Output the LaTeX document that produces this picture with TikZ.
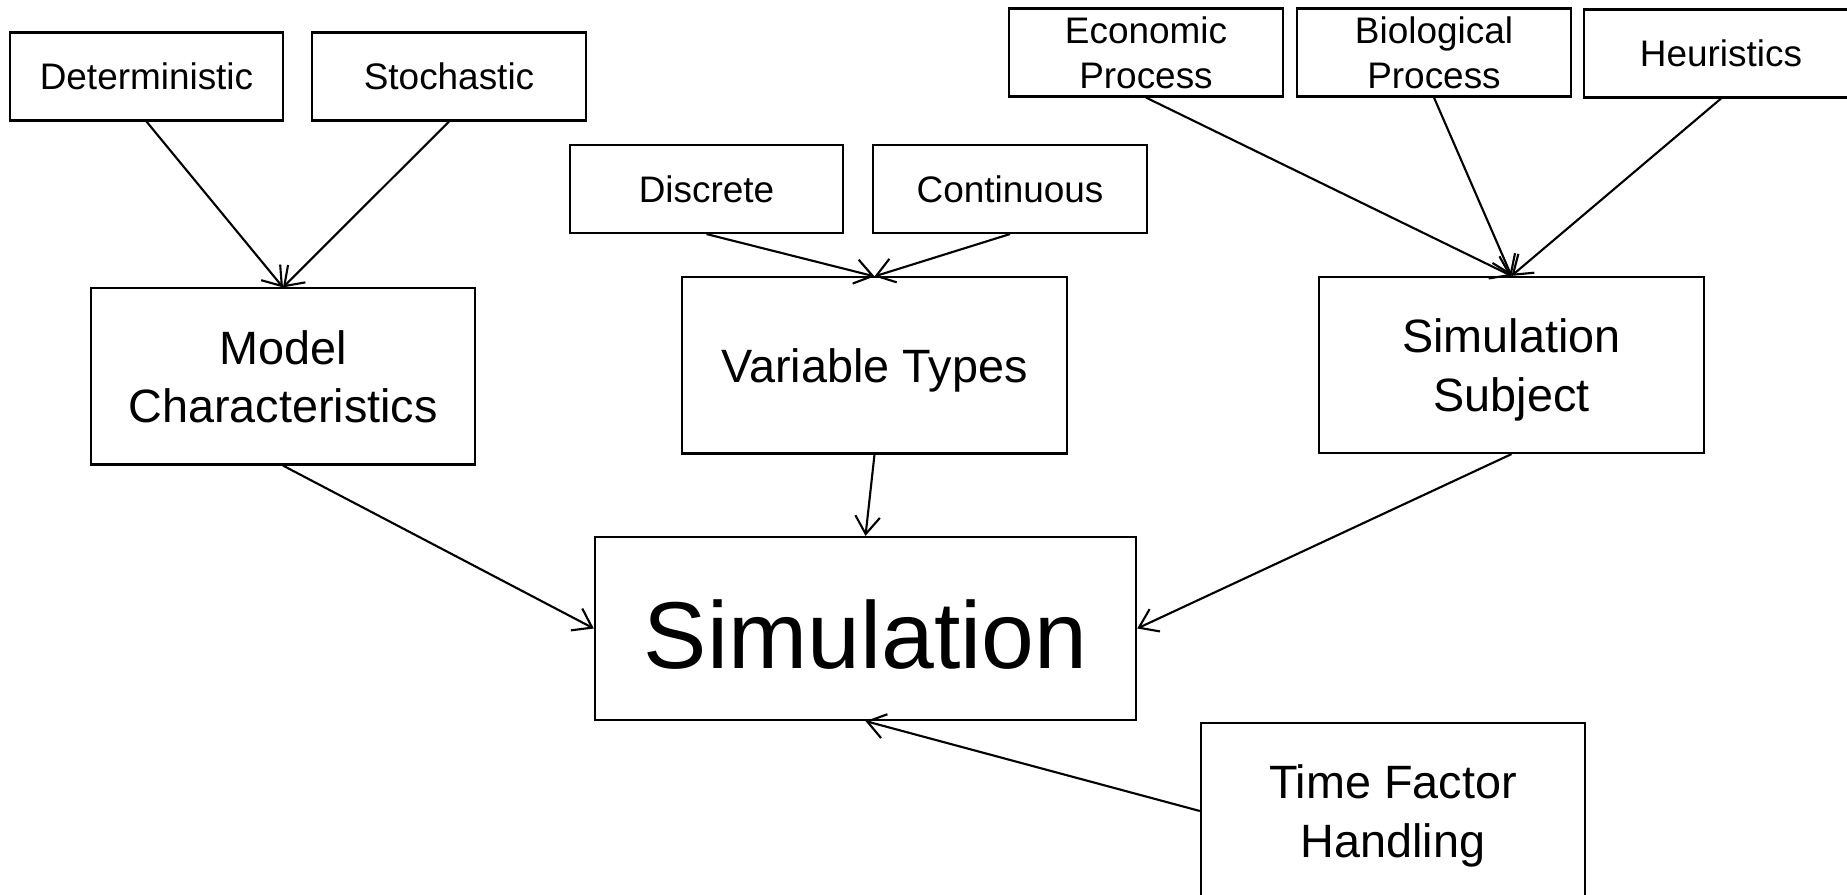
\documentclass[tikz,border=0pt]{standalone}
\usepackage{fontspec}
\setmainfont{Liberation Sans}
\usetikzlibrary{arrows.meta}

\begin{document}
\begin{tikzpicture}[x=0.01cm,y=0.01cm]
\tikzstyle{every node}+=[inner sep=0pt]
\tikzstyle{leaf}=[draw, line width=0.6pt, minimum width=2.73cm, minimum height=0.88cm, align=center, font=\fontsize{10.5}{12.8}\selectfont]
\tikzstyle{branch}=[draw, line width=0.6pt, minimum width=3.84cm, minimum height=1.76cm, align=center, text depth=0pt, font=\fontsize{13.3}{16.7}\selectfont]
\tikzstyle{feed}=[-{Straight Barb[length=5pt,width=7pt]}, line width=0.6pt]
\useasboundingbox (0,0) rectangle (1847,-895);
\node [leaf] (det) at (146.5,-76.5) {Deterministic};
\node [leaf] (sto) at (449,-76.5) {Stochastic};
\node [leaf] (disc) at (706.5,-189) {Discrete};
\node [leaf] (cont) at (1010,-189) {Continuous};
\node [leaf] (econ) at (1146,-52.5) {Economic\\Process};
\node [leaf] (bio) at (1434,-52.5) {Biological\\Process};
\node [leaf] (heur) at (1721,-53.5) {Heuristics};
\node [branch] (model) at (283,-376.5) {Model\\Characteristics};
\node [branch] (vartype) at (874.5,-365.5) {Variable Types};
\node [branch] (subj) at (1511.5,-365) {Simulation\\Subject};
\node [branch] (time) at (1393,-811) {Time Factor\\Handling};
\node [draw, line width=0.6pt, minimum width=5.41cm, minimum height=1.83cm, text height=23pt, text depth=0pt, font=\fontsize{27}{32}\selectfont] (sim) at (865.5,-628.5) {Simulation};
\draw [feed] (det.south) -- (model.north);
\draw [feed] (sto.south) -- (model.north);
\draw [feed] (disc.south) -- (vartype.north);
\draw [feed] (cont.south) -- (vartype.north);
\draw [feed] (econ.south) -- (subj.north);
\draw [feed] (bio.south) -- (subj.north);
\draw [feed] (heur.south) -- (subj.north);
\draw [feed] (model.south) -- (sim.west);
\draw [feed] (vartype.south) -- (sim.north);
\draw [feed] (subj.south) -- (sim.east);
\draw [feed] (time.west) -- (sim.south);
\end{tikzpicture}
\end{document}
